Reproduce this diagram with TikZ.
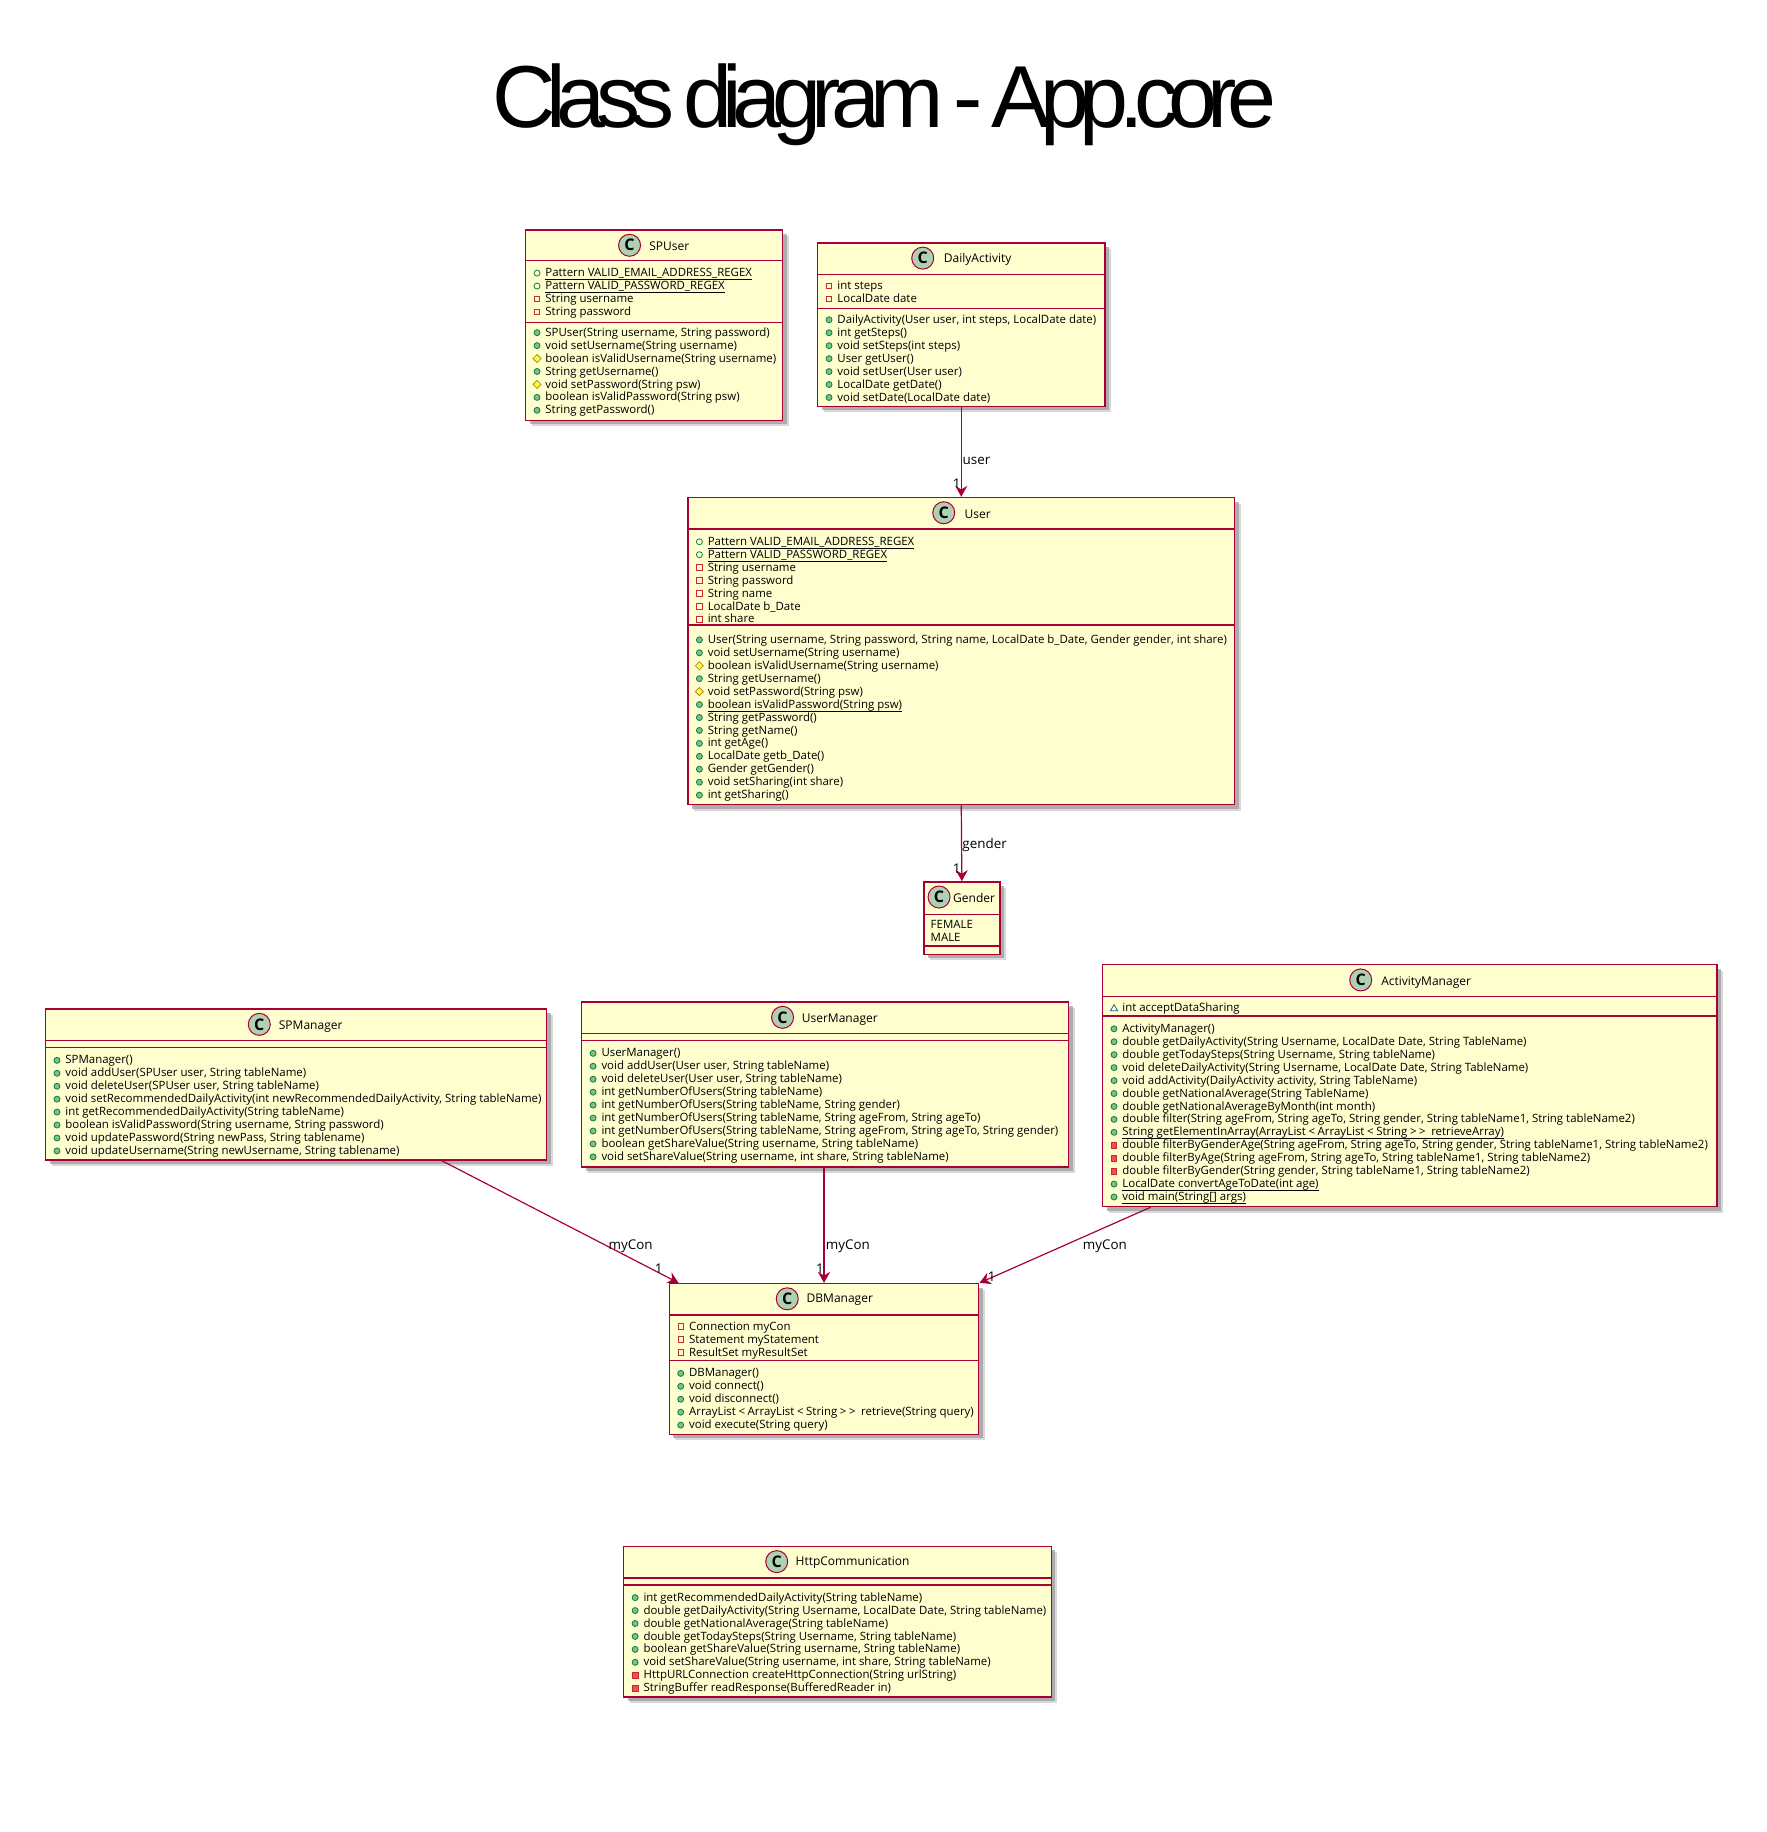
\documentclass[tikz,border=0pt]{standalone}
\usepackage{fontspec}
\setmainfont{Open Sans}
\newfontfamily\titlefont[LetterSpace=-10.85, WordSpace=0.6]{Liberation Sans}
\usetikzlibrary{fit, shadows, arrows.meta}

\definecolor{umlborder}{HTML}{A80036}
\definecolor{umlfill}{HTML}{FEFECE}
\definecolor{umlicon}{HTML}{ADD1B2}
\definecolor{pubfill}{HTML}{84BE84}
\definecolor{publine}{HTML}{038048}
\definecolor{privfill}{HTML}{F24D5C}
\definecolor{privline}{HTML}{C82930}
\definecolor{protfill}{HTML}{FFFF44}
\definecolor{protline}{HTML}{B38D22}
\definecolor{packline}{HTML}{1963A0}

\setlength{\lineskiplimit}{-10pt}
\setlength{\normallineskiplimit}{-10pt}
\newcommand{\memberfont}{\fontsize{5.72}{6.47}\selectfont}
\newcommand{\iconbox}[1]{\tikz[baseline=0pt]{\path[use as bounding box] (0pt,-1pt) rectangle (6.5pt,4.6pt); #1}}
\newcommand{\mpub}{\iconbox{\draw[publine, fill=pubfill, line width=.4pt] (2.3pt,1.8pt) circle[radius=1.5pt];}}
\newcommand{\fpub}{\iconbox{\draw[publine, line width=.4pt] (2.3pt,1.8pt) circle[radius=1.5pt];}}
\newcommand{\mpriv}{\iconbox{\draw[privline, fill=privfill, line width=.4pt] (.9pt,.4pt) rectangle (3.7pt,3.2pt);}}
\newcommand{\fpriv}{\iconbox{\draw[privline, line width=.4pt] (.9pt,.4pt) rectangle (3.7pt,3.2pt);}}
\newcommand{\mprot}{\iconbox{\draw[protline, fill=protfill, line width=.4pt] (.3pt,1.8pt) -- (2.3pt,3.8pt) -- (4.3pt,1.8pt) -- (2.3pt,-.2pt) -- cycle;}}
\newcommand{\fpack}{\iconbox{\draw[packline, line width=.4pt] (.5pt,.3pt) -- (2.3pt,3.4pt) -- (4.1pt,.3pt) -- cycle;}}
\newcommand{\mstatic}[1]{\underline{\smash{#1}}}
\newcommand{\glt}{\kern1.3pt<\kern1.3pt}
\newcommand{\ggt}{\kern1.3pt>}

% name, left, top, right, bottom, first rule, second rule
\newcommand{\classframe}[7]{
	\node (#1) [classbox, fit={(#2,#3) (#4,#5)}] {};
	\draw[classrule] (#2,#6) -- (#4,#6);
	\draw[classrule] (#2,#7) -- (#4,#7);
}

\tikzset{
	classbox/.style={draw=umlborder, fill=umlfill, line width=.7pt, inner sep=0pt,
		drop shadow={shadow xshift=3pt, shadow yshift=-3pt, fill=black!30, opacity=.5},
		drop shadow={shadow xshift=2pt, shadow yshift=-2pt, fill=black!40, opacity=.7}},
	classrule/.style={draw=umlborder, line width=.7pt},
	classicon/.style={circle, draw=umlborder, fill=umlicon, line width=.5pt, minimum size=11pt, inner sep=0pt, font=\fontsize{8}{8}\selectfont\bfseries},
	headtext/.style={inner sep=0pt, yshift=-.6pt, font=\fontsize{6}{7}\selectfont},
	membertext/.style={anchor=north west, inner sep=0pt, xshift=.3pt, yshift=-.4pt, align=left, font=\memberfont},
	edgetext/.style={inner sep=0pt, yshift=-.8pt, font=\fontsize{6.7}{8}\selectfont},
	assoc/.style={draw=umlborder, line width=.6pt, -{Stealth[length=5.5pt, width=6pt, inset=1.8pt]}},
}

\begin{document}
\begin{tikzpicture}[x=.584pt, y=-.584pt]
	\useasboundingbox (0,0) rectangle (1512.84,1568.5);
	\node (title) at (757.5,109) [anchor=base, inner sep=0pt, font=\titlefont\fontsize{44}{50}\selectfont] {Class diagram - App.core};

	\classframe{spuser}{450}{197}{670}{360}{223}{276}
	\node (spuseri) at (539,210) [classicon] {C};
	\node (spusert) at (573,210) [headtext] {SPUser};
	\node (spusera) at (455,228) [membertext] {\fpub\mstatic{Pattern VALID\_EMAIL\_ADDRESS\_REGEX}\\
		\fpub\mstatic{Pattern VALID\_PASSWORD\_REGEX}\\
		\fpriv String username\\
		\fpriv String password};
	\node (spuserm) at (455,279) [membertext] {\mpub SPUser(String username, String password)\\
		\mpub void setUsername(String username)\\
		\mprot boolean isValidUsername(String username)\\
		\mpub String getUsername()\\
		\mprot void setPassword(String psw)\\
		\mpub boolean isValidPassword(String psw)\\
		\mpub String getPassword()};

	\classframe{dailyactivity}{700}{208}{946}{348}{235}{264}
	\node (dailyactivityi) at (790,221) [classicon] {C};
	\node (dailyactivityt) at (837,221) [headtext] {DailyActivity};
	\node (dailyactivitya) at (705,239) [membertext] {\fpriv int steps\\
		\fpriv LocalDate date};
	\node (dailyactivitym) at (705,268) [membertext] {\mpub DailyActivity(User user, int steps, LocalDate date)\\
		\mpub int getSteps()\\
		\mpub void setSteps(int steps)\\
		\mpub User getUser()\\
		\mpub void setUser(User user)\\
		\mpub LocalDate getDate()\\
		\mpub void setDate(LocalDate date)};

	\classframe{user}{589}{426}{1057}{689}{453}{535}
	\node (useri) at (808,439) [classicon] {C};
	\node (usert) at (837,439) [headtext] {User};
	\node (usera) at (594,458) [membertext] {\fpub\mstatic{Pattern VALID\_EMAIL\_ADDRESS\_REGEX}\\
		\fpub\mstatic{Pattern VALID\_PASSWORD\_REGEX}\\
		\fpriv String username\\
		\fpriv String password\\
		\fpriv String name\\
		\fpriv LocalDate b\_Date\\
		\fpriv int share};
	\node (userm) at (594,542) [membertext] {\mpub User(String username, String password, String name, LocalDate b\_Date, Gender gender, int share)\\
		\mpub void setUsername(String username)\\
		\mprot boolean isValidUsername(String username)\\
		\mpub String getUsername()\\
		\mprot void setPassword(String psw)\\
		\mpub\mstatic{boolean isValidPassword(String psw)}\\
		\mpub String getPassword()\\
		\mpub String getName()\\
		\mpub int getAge()\\
		\mpub LocalDate getb\_Date()\\
		\mpub Gender getGender()\\
		\mpub void setSharing(int share)\\
		\mpub int getSharing()};

	\classframe{gender}{791}{755}{856}{817}{783}{810}
	\node (genderi) at (804,768) [classicon] {C};
	\node (gendert) at (834,768) [headtext] {Gender};
	\node (gendera) at (796,786) [membertext] {\strut FEMALE\\
		MALE};

	\classframe{spmanager}{39}{864}{468}{993}{891}{897}
	\node (spmanageri) at (222,877) [classicon] {C};
	\node (spmanagert) at (266,878) [headtext] {SPManager};
	\node (spmanagerm) at (44,902) [membertext] {\mpub SPManager()\\
		\mpub void addUser(SPUser user, String tableName)\\
		\mpub void deleteUser(SPUser user, String tableName)\\
		\mpub void setRecommendedDailyActivity(int newRecommendedDailyActivity, String tableName)\\
		\mpub int getRecommendedDailyActivity(String tableName)\\
		\mpub boolean isValidPassword(String username, String password)\\
		\mpub void updatePassword(String newPass, String tablename)\\
		\mpub void updateUsername(String newUsername, String tablename)};

	\classframe{usermanager}{498}{858}{915}{999}{885}{891}
	\node (usermanageri) at (670,871) [classicon] {C};
	\node (usermanagert) at (719,872) [headtext] {UserManager};
	\node (usermanagerm) at (503,896) [membertext] {\mpub UserManager()\\
		\mpub void addUser(User user, String tableName)\\
		\mpub void deleteUser(User user, String tableName)\\
		\mpub int getNumberOfUsers(String tableName)\\
		\mpub int getNumberOfUsers(String tableName, String gender)\\
		\mpub int getNumberOfUsers(String tableName, String ageFrom, String ageTo)\\
		\mpub int getNumberOfUsers(String tableName, String ageFrom, String ageTo, String gender)\\
		\mpub boolean getShareValue(String username, String tableName)\\
		\mpub void setShareValue(String username, int share, String tableName)};

	\classframe{activitymanager}{944}{826}{1470}{1033}{853}{870}
	\node (activitymanageri) at (1165,839) [classicon] {C};
	\node (activitymanagert) at (1221,840) [headtext] {ActivityManager};
	\node (activitymanagera) at (949,857) [membertext] {\fpack int acceptDataSharing};
	\node (activitymanagerm) at (949,875) [membertext] {\mpub ActivityManager()\\
		\mpub double getDailyActivity(String Username, LocalDate Date, String TableName)\\
		\mpub double getTodaySteps(String Username, String tableName)\\
		\mpub void deleteDailyActivity(String Username, LocalDate Date, String TableName)\\
		\mpub void addActivity(DailyActivity activity, String TableName)\\
		\mpub double getNationalAverage(String TableName)\\
		\mpub double getNationalAverageByMonth(int month)\\
		\mpub double filter(String ageFrom, String ageTo, String gender, String tableName1, String tableName2)\\
		\mpub\mstatic{String getElementInArray(ArrayList\glt ArrayList\glt String\ggt\ggt\kern1.3pt{} retrieveArray)}\\
		\mpriv double filterByGenderAge(String ageFrom, String ageTo, String gender, String tableName1, String tableName2)\\
		\mpriv double filterByAge(String ageFrom, String ageTo, String tableName1, String tableName2)\\
		\mpriv double filterByGender(String gender, String tableName1, String tableName2)\\
		\mpub\mstatic{LocalDate convertAgeToDate(int age)}\\
		\mpub\mstatic{void main(String[] args)}};

	\classframe{dbmanager}{573}{1099}{838}{1228}{1126}{1165}
	\node (dbmanageri) at (674,1112) [classicon] {C};
	\node (dbmanagert) at (719,1112) [headtext] {DBManager};
	\node (dbmanagera) at (578,1130) [membertext] {\fpriv Connection myCon\\
		\fpriv Statement myStatement\\
		\fpriv ResultSet myResultSet};
	\node (dbmanagerm) at (578,1170) [membertext] {\mpub DBManager()\\
		\mpub void connect()\\
		\mpub void disconnect()\\
		\mpub ArrayList\glt ArrayList\glt String\ggt\ggt\kern1.3pt{} retrieve(String query)\\
		\mpub void execute(String query)};

	\classframe{httpcomm}{534}{1324}{900}{1453}{1351}{1357}
	\node (httpcommi) at (665,1337) [classicon] {C};
	\node (httpcommt) at (730,1337) [headtext] {HttpCommunication};
	\node (httpcommm) at (539,1362) [membertext] {\mpub int getRecommendedDailyActivity(String tableName)\\
		\mpub double getDailyActivity(String Username, LocalDate Date, String tableName)\\
		\mpub double getNationalAverage(String tableName)\\
		\mpub double getTodaySteps(String Username, String tableName)\\
		\mpub boolean getShareValue(String username, String tableName)\\
		\mpub void setShareValue(String username, int share, String tableName)\\
		\mpriv HttpURLConnection createHttpConnection(String urlString)\\
		\mpriv StringBuffer readResponse(BufferedReader in)};

	\draw[assoc] (dailyactivity.south) -- (user.north);
	\draw[assoc] (user.south) -- (gender.north);
	\draw[assoc] ([xshift=72.7pt]spmanager.south) -- ([xshift=-72.7pt]dbmanager.north);
	\draw[assoc] (usermanager.south -| dbmanager.north) -- (dbmanager.north);
	\draw[assoc] ([xshift=-129.6pt]activitymanager.south) -- (dbmanager.north east);

	\node (userlabel) at (836,393) [edgetext] {user};
	\node (usermult) at (819,413) [edgetext] {1};
	\node (genderlabel) at (843,722) [edgetext] {gender};
	\node (gendermult) at (819,742) [edgetext] {1};
	\node (spconlabel) at (540,1066) [edgetext] {myCon};
	\node (spconmult) at (564,1085) [edgetext] {1};
	\node (umconlabel) at (726,1066) [edgetext] {myCon};
	\node (umconmult) at (702,1085) [edgetext] {1};
	\node (amconlabel) at (946,1066) [edgetext] {myCon};
	\node (amconmult) at (849,1092) [edgetext] {1};
\end{tikzpicture}
\end{document}
